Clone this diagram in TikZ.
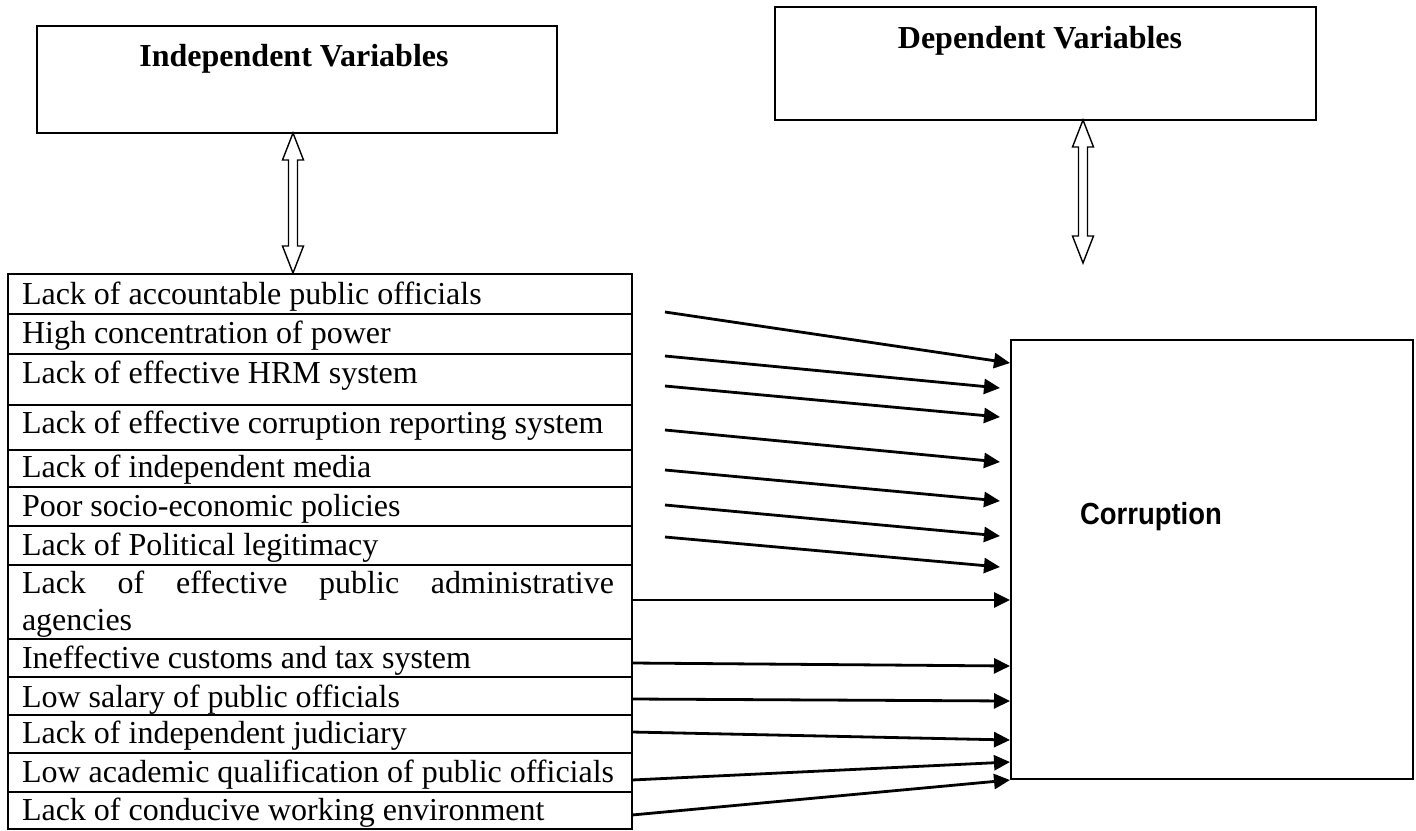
\documentclass[tikz,border=0pt]{standalone}
\usepackage{fontspec}
\setmainfont{Liberation Serif}
\newfontfamily\corrfont{Liberation Sans}
\usetikzlibrary{arrows.meta,calc}
\newcommand\dblarr[2]{%
  \draw[dbl] (#1) -- ++(10.5,27) -- ++(-6,0) -- ($(#2)+(4.5,-27)$) -- ++(6,0) -- (#2)
    -- ++(-10.5,-27) -- ++(6,0) -- ($(#1)+(-4.5,27)$) -- ++(-6,0) -- cycle;}
\begin{document}
\begin{tikzpicture}[x=1pt,y=-1pt,
  every node/.style={inner sep=0pt, outer sep=0pt},
  box/.style={draw, line width=2pt, anchor=north west},
  rowtext/.style={anchor=base west, font=\fontsize{32}{37}\selectfont},
  head/.style={anchor=base, font=\fontsize{32}{37}\selectfont\bfseries},
  rowline/.style={line width=2.4pt},
  link/.style={line width=2.8pt, -{Triangle[length=16pt,width=15pt]}},
  dbl/.style={line width=1.4pt, fill=white, line join=miter}]
\useasboundingbox (0,0) rectangle (1416,830);

% top boxes
\node[box, minimum width=520pt, minimum height=107pt] (indep) at (37,26) {};
\node[head] (indeptext) at (294,66) {Independent Variables};
\node[box, minimum width=541pt, minimum height=113pt] (dep) at (775,7) {};
\node[head] (deptext) at (1040,48) {Dependent Variables};

% table
\node[box, line width=2.4pt, minimum width=624pt, minimum height=555pt] (tbl) at (8,274) {};
\foreach \y in {314,354,405,450,487,526,565,639,677,715,753,792}
  \draw[rowline] (8,\y) -- (632,\y);

\node[rowtext] (r1) at (22,304) {Lack of accountable public officials};
\node[rowtext] (r2) at (22,343) {High concentration of power};
\node[rowtext] (r3) at (22,383) {Lack of effective HRM system};
\node[rowtext] (r4) at (22,433) {Lack of effective corruption reporting system};
\node[rowtext] (r5) at (22,477) {Lack of independent media};
\node[rowtext] (r6) at (22,516) {Poor socio-economic policies};
\node[rowtext] (r7) at (22,555) {Lack of Political legitimacy};
\node[rowtext] (r8) at (22,593) {\makebox[592pt][s]{Lack of effective public administrative}};
\node[rowtext] (r8b) at (22,630) {agencies};
\node[rowtext] (r9) at (22,668) {Ineffective customs and tax system};
\node[rowtext] (r10) at (22,707) {Low salary of public officials};
\node[rowtext] (r11) at (22,743) {Lack of independent judiciary};
\node[rowtext] (r12) at (22,782) {Low academic qualification of public officials};
\node[rowtext] (r13) at (22,820) {Lack of conducive working environment};

% corruption box
\node[box, minimum width=402pt, minimum height=439pt] (corr) at (1011,340) {};
\node[anchor=base, font=\fontsize{30.5}{36}\selectfont\corrfont\bfseries] (corrtext) at (1151,524) {\scalebox{0.9}[1]{Corruption}};

% double arrows
\coordinate (ia) at (293,133);
\coordinate (ib) at (293,273);
\dblarr{ia}{ib}
\coordinate (da) at (1083,120);
\coordinate (db) at (1083,263);
\dblarr{da}{db}

% arrow start and end points
\coordinate (s1) at (665,312);  \coordinate (t1) at (1010,363);
\coordinate (s2) at (665,356);  \coordinate (t2) at (1000,388);
\coordinate (s3) at (665,386);  \coordinate (t3) at (1000,417);
\coordinate (s4) at (665,430);  \coordinate (t4) at (1000,462);
\coordinate (s5) at (665,470);  \coordinate (t5) at (1000,501);
\coordinate (s6) at (665,505);  \coordinate (t6) at (1000,536);
\coordinate (s7) at (665,537);  \coordinate (t7) at (1000,567);
\coordinate (s8) at (632,600);  \coordinate (t8) at (1010,600);
\coordinate (s9) at (632,663);  \coordinate (t9) at (1010,666);
\coordinate (s10) at (632,699); \coordinate (t10) at (1010,701);
\coordinate (s11) at (632,732); \coordinate (t11) at (1010,740);
\coordinate (s12) at (632,780); \coordinate (t12) at (1010,762);
\coordinate (s13) at (632,815); \coordinate (t13) at (1010,780);
\foreach \i in {1,...,13}
  \draw[link] (s\i) -- (t\i);
\end{tikzpicture}
\end{document}
